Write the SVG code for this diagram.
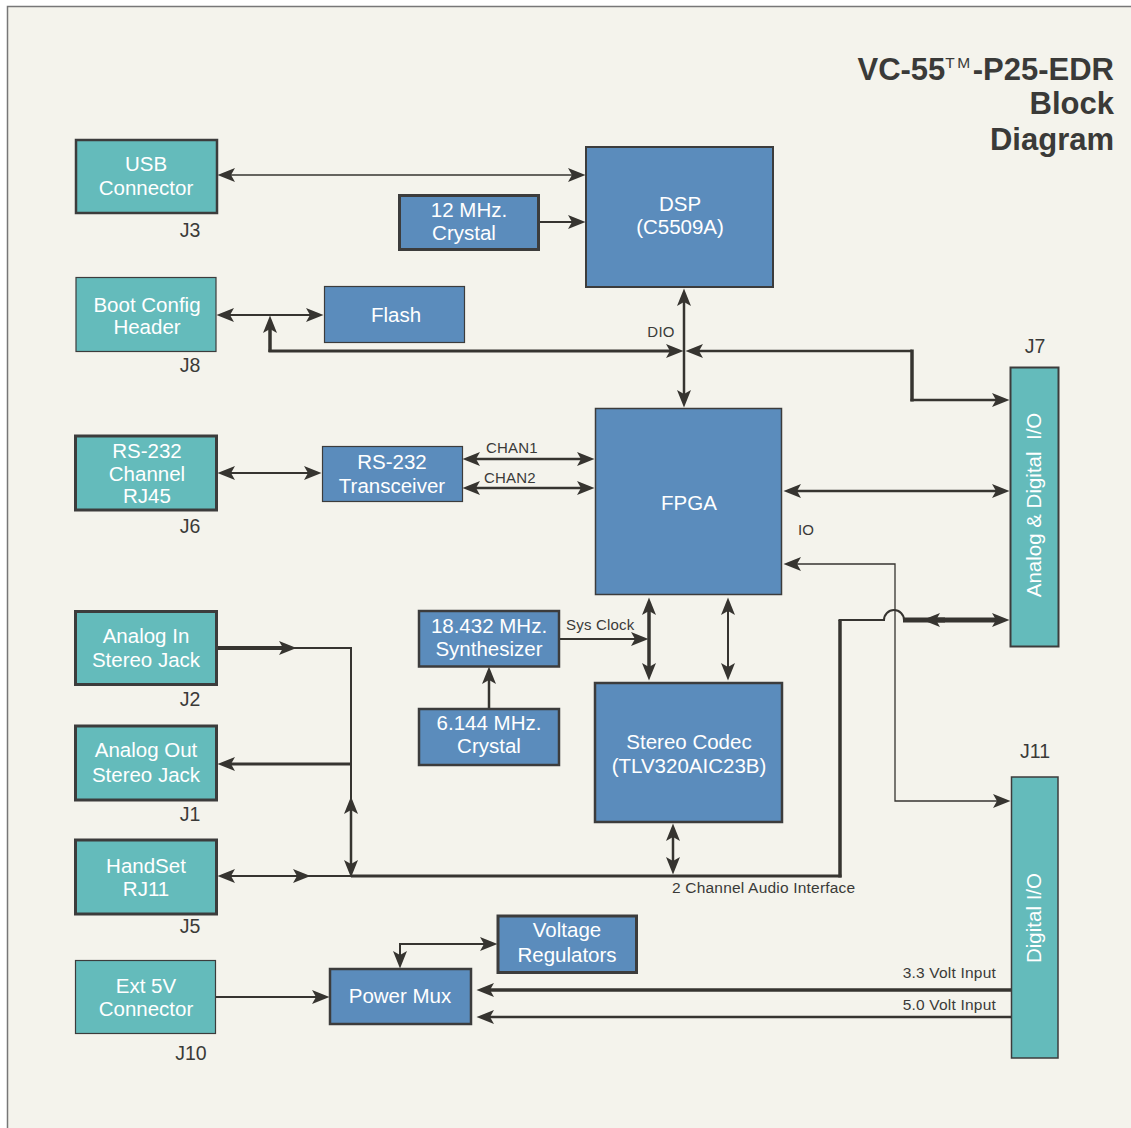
<svg xmlns="http://www.w3.org/2000/svg" width="1131" height="1128" viewBox="0 0 1131 1128">
<style>
.teal{fill:#64bbbb;stroke:#3c3c3c}
.blue{fill:#5b8cbc;stroke:#3c3c3c}
text{font-family:"Liberation Sans",Arial,sans-serif}
.nt{font-size:20.5px;fill:#ffffff;text-anchor:middle}
.jl{font-size:19.5px;fill:#3a3a38;text-anchor:middle}
.sl{font-size:15px;fill:#3a3a38;letter-spacing:0.2px}
.ttl{font-size:31px;font-weight:bold;fill:#3a3a38;text-anchor:end}
.w{fill:none;stroke:#363430}
.ab{marker-end:url(#ah)}
.as{marker-start:url(#ah)}
</style>
<defs>
<marker id="ah" markerUnits="userSpaceOnUse" markerWidth="19" markerHeight="15" refX="4" refY="7.5" orient="auto-start-reverse" overflow="visible">
<path d="M0,0.5 L17.5,7.5 L0,14.5 L4,7.5 Z" fill="#363430"/>
</marker>
</defs>
<rect x="0" y="0" width="1131" height="1128" fill="#ffffff"/>
<rect x="7.5" y="6.5" width="1200" height="1200" fill="#f4f3ec" stroke="#777777" stroke-width="1.5"/>

<g id="title">
<text class="ttl" x="1114" y="80">VC-55<tspan font-size="15.5" font-weight="normal" letter-spacing="2.5" dy="-12">TM</tspan><tspan dy="12">-P25-EDR</tspan></text>
<text class="ttl" x="1114" y="114">Block</text>
<text class="ttl" x="1114" y="150">Diagram</text>
</g>

<g id="connectors">
<path class="w as ab" d="M231,175 H572" stroke-width="1.5"/>
<path class="w ab" d="M540,222 H572" stroke-width="2"/>
<path class="w as ab" d="M230,315 H310" stroke-width="2"/>
<path class="w ab" d="M270,352 V329" stroke-width="3.5"/>
<path class="w ab" d="M268.5,351 H670" stroke-width="3"/>
<path class="w as ab" d="M684,302 V394" stroke-width="2.5"/>
<path class="w as" d="M699,351 H912" stroke-width="2.5"/>
<path class="w" d="M912,349.5 V401.5" stroke-width="3.5"/>
<path class="w ab" d="M910.5,400 H996" stroke-width="2.5"/>
<path class="w as ab" d="M231,473 H308" stroke-width="2"/>
<path class="w as ab" d="M476,459 H581" stroke-width="2.5"/>
<path class="w as ab" d="M476,488 H581" stroke-width="2.5"/>
<path class="w as ab" d="M797,491 H996" stroke-width="2.5"/>
<path class="w as ab" d="M997,801 H895 V564 H797" stroke="#555555" stroke-width="1.3"/>
<path class="w" d="M351,876 H841.5" stroke-width="3"/>
<path class="w" d="M840,877.5 V620" stroke-width="3.5"/>
<path class="w" d="M838.5,620 H884 A10,10 0 0 1 904,620" stroke-width="2"/>
<path class="w ab" d="M903,620 H996" stroke-width="5"/>
<path class="w ab" d="M945,620 H936" stroke-width="5"/>
<path class="w ab" d="M217,648 H283" stroke-width="4"/>
<path class="w" d="M290,648 H351 V876" stroke-width="2"/>
<path class="w ab" d="M351,764 H231" stroke-width="3"/>
<path class="w as ab" d="M351,810 V864" stroke-width="2.5"/>
<path class="w as ab" d="M231,876 H297" stroke-width="2"/>
<path class="w" d="M297,876 H352" stroke-width="2"/>
<path class="w as ab" d="M673,837 V861" stroke-width="2.5"/>
<path class="w as ab" d="M649,611 V667" stroke-width="3.5"/>
<path class="w as ab" d="M728,611 V667" stroke-width="2"/>
<path class="w ab" d="M559,639 H635" stroke-width="2"/>
<path class="w ab" d="M489,708 V680" stroke-width="2.5"/>
<path class="w ab" d="M215,997 H316" stroke-width="2"/>
<path class="w as ab" d="M400,955 V944 H484" stroke-width="2"/>
<path class="w ab" d="M1011,990 H490" stroke-width="3.5"/>
<path class="w ab" d="M1011,1017 H490" stroke-width="2.5"/>
<text class="sl" x="661" y="337" text-anchor="middle">DIO</text>
<text class="sl" x="486" y="453">CHAN1</text>
<text class="sl" x="484" y="483">CHAN2</text>
<text class="sl" x="806" y="535" text-anchor="middle">IO</text>
<text class="sl" x="566" y="630">Sys Clock</text>
<text class="sl" x="672" y="893" style="font-size:15.5px">2 Channel Audio Interface</text>
<text class="sl" x="996" y="978" text-anchor="end" style="font-size:15.5px">3.3 Volt Input</text>
<text class="sl" x="996" y="1010" text-anchor="end" style="font-size:15.5px">5.0 Volt Input</text>
</g>

<g id="usb">
<rect class="teal" x="76" y="140" width="141" height="73" stroke-width="2.5"/>
<text class="nt" x="146" y="171">USB</text>
<text class="nt" x="146" y="195">Connector</text>
<text class="jl" x="190" y="237">J3</text>
</g>
<g id="crystal12">
<rect class="blue" x="399.5" y="195.5" width="139" height="54" stroke-width="3"/>
<text class="nt" x="469" y="217">12 MHz.</text>
<text class="nt" x="464" y="240">Crystal</text>
</g>
<g id="dsp">
<rect class="blue" x="586" y="147" width="187" height="140" stroke-width="2"/>
<text class="nt" x="680" y="211">DSP</text>
<text class="nt" x="680" y="234">(C5509A)</text>
</g>
<g id="bootconfig">
<rect class="teal" x="76" y="277.5" width="140" height="74" stroke-width="1.2"/>
<text class="nt" x="147" y="312">Boot Config</text>
<text class="nt" x="147" y="334">Header</text>
<text class="jl" x="190" y="372">J8</text>
</g>
<g id="flash">
<rect class="blue" x="324.5" y="286.5" width="140" height="56" stroke-width="1.2"/>
<text class="nt" x="396" y="322">Flash</text>
</g>
<g id="rs232-rj45">
<rect class="teal" x="75.5" y="436" width="141" height="74" stroke-width="3"/>
<text class="nt" x="147" y="458">RS-232</text>
<text class="nt" x="147" y="481">Channel</text>
<text class="nt" x="147" y="503">RJ45</text>
<text class="jl" x="190" y="533">J6</text>
</g>
<g id="transceiver">
<rect class="blue" x="322.5" y="446.5" width="140" height="55" stroke-width="1.2"/>
<text class="nt" x="392" y="469">RS-232</text>
<text class="nt" x="392" y="493">Transceiver</text>
</g>
<g id="fpga">
<rect class="blue" x="595.5" y="408.5" width="186" height="186" stroke-width="1.5"/>
<text class="nt" x="689" y="510">FPGA</text>
</g>
<g id="j7">
<rect class="teal" x="1010.5" y="367.5" width="48" height="279" stroke-width="2"/>
<text class="nt" transform="translate(1041,505) rotate(-90)" xml:space="preserve">Analog &amp; Digital  I/O</text>
<text class="jl" x="1035" y="353">J7</text>
</g>
<g id="analog-in">
<rect class="teal" x="75.5" y="611.5" width="141" height="73" stroke-width="3"/>
<text class="nt" x="146" y="643">Analog In</text>
<text class="nt" x="146" y="667">Stereo Jack</text>
<text class="jl" x="190" y="706">J2</text>
</g>
<g id="analog-out">
<rect class="teal" x="75.5" y="726" width="141" height="74" stroke-width="3"/>
<text class="nt" x="146" y="757">Analog Out</text>
<text class="nt" x="146" y="782">Stereo Jack</text>
<text class="jl" x="190" y="821">J1</text>
</g>
<g id="handset">
<rect class="teal" x="75.5" y="840" width="141" height="74" stroke-width="3"/>
<text class="nt" x="146" y="873">HandSet</text>
<text class="nt" x="146" y="896">RJ11</text>
<text class="jl" x="190" y="933">J5</text>
</g>
<g id="synth">
<rect class="blue" x="419" y="611" width="140" height="55.5" stroke-width="2.5"/>
<text class="nt" x="489" y="633">18.432 MHz.</text>
<text class="nt" x="489" y="656">Synthesizer</text>
</g>
<g id="crystal6">
<rect class="blue" x="419" y="709" width="140" height="56" stroke-width="2.5"/>
<text class="nt" x="489" y="730">6.144 MHz.</text>
<text class="nt" x="489" y="753">Crystal</text>
</g>
<g id="codec">
<rect class="blue" x="595" y="683" width="187" height="139" stroke-width="2.5"/>
<text class="nt" x="689" y="749">Stereo Codec</text>
<text class="nt" x="689" y="773">(TLV320AIC23B)</text>
</g>
<g id="j11">
<rect class="teal" x="1011.5" y="777" width="46.5" height="281" stroke-width="1.5"/>
<text class="nt" transform="translate(1041,918) rotate(-90)">Digital I/O</text>
<text class="jl" x="1035" y="758">J11</text>
</g>
<g id="voltage-regulators">
<rect class="blue" x="498" y="916" width="138.5" height="56.5" stroke-width="3"/>
<text class="nt" x="567" y="937">Voltage</text>
<text class="nt" x="567" y="962">Regulators</text>
</g>
<g id="ext5v">
<rect class="teal" x="75.5" y="960.5" width="140" height="73" stroke-width="1.2"/>
<text class="nt" x="146" y="993">Ext 5V</text>
<text class="nt" x="146" y="1016">Connector</text>
<text class="jl" x="191" y="1060">J10</text>
</g>
<g id="power-mux">
<rect class="blue" x="330" y="969" width="141" height="55" stroke-width="2.5"/>
<text class="nt" x="400" y="1003">Power Mux</text>
</g>
</svg>
